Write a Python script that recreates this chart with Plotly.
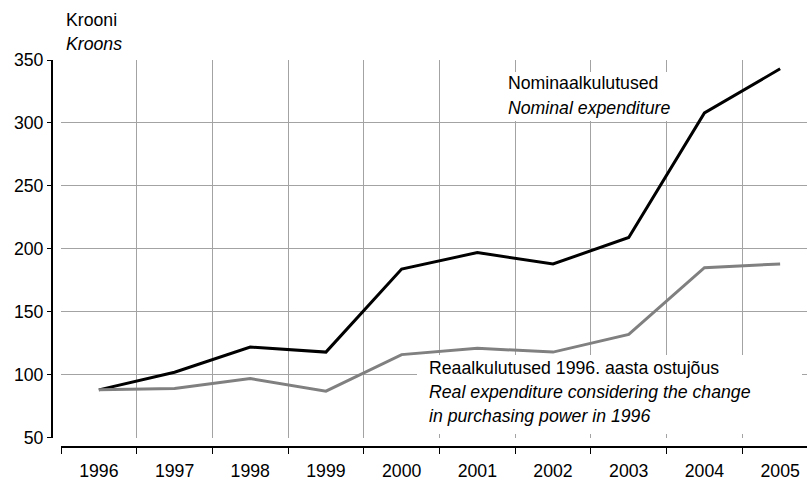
import plotly.graph_objects as go

years = ["1996", "1997", "1998", "1999", "2000", "2001", "2002", "2003", "2004", "2005"]
nominal = [88, 102, 122, 118, 184, 197, 188, 209, 308, 343]
real = [88, 89, 97, 87, 116, 121, 118, 132, 185, 188]
y_ticks = [50, 100, 150, 200, 250, 300, 350]

W, H = 807, 480
ML, MR, MT, MB = 52, 0, 60, 33
PW, PH = W - ML - MR, H - MT - MB

def px_x(p):
    return (p - ML) / PW

def px_y(p):
    return (H - MB - p) / PH

FONT = "Liberation Sans, Arial, sans-serif"
FS = 17.7
GRID = "#a3a3a3"

xi = list(range(len(years)))

fig = go.Figure()
fig.add_trace(go.Scatter(x=xi, y=nominal, mode="lines",
                         line=dict(color="#000000", width=3), showlegend=False))
fig.add_trace(go.Scatter(x=xi, y=real, mode="lines",
                         line=dict(color="#808080", width=3), showlegend=False))

fig.update_layout(
    width=W, height=H,
    margin=dict(l=ML, r=MR, t=MT, b=MB, pad=0, autoexpand=False),
    paper_bgcolor="white", plot_bgcolor="white",
    font=dict(family=FONT, size=FS, color="#000000"),
    xaxis=dict(
        domain=[px_x(61), 1], range=[-0.5, 9.355],
        anchor="free", position=0, automargin=False,
        tickmode="array", tickvals=xi, ticktext=years,
        ticks="", showgrid=False, zeroline=False,
        showline=True, linecolor="#000000", linewidth=2,
        ticklabelstandoff=8,
        minor=dict(tickmode="linear", tick0=-0.5, dtick=1, ticks="outside",
                   ticklen=6, tickwidth=1, tickcolor="#000000",
                   showgrid=True, gridcolor=GRID, gridwidth=1),
    ),
    yaxis=dict(
        domain=[px_y(437.7), 1], range=[50, 350],
        anchor="free", position=0, automargin=False,
        tickmode="array", tickvals=y_ticks,
        ticks="outside", ticklen=4, tickwidth=1, tickcolor="#000000",
        showgrid=True, gridcolor=GRID, gridwidth=1, zeroline=False,
        showline=True, linecolor="#000000", linewidth=2,
    ),
)

# white backing boxes behind the in-plot labels (covering gridlines)
for x0, x1, y0, y1 in [(497, 680, 72, 121), (417, 802, 355, 434)]:
    fig.add_shape(type="rect", xref="paper", yref="paper",
                  x0=px_x(x0), x1=px_x(x1), y0=px_y(y1), y1=px_y(y0),
                  fillcolor="white", line=dict(width=0), layer="above")

labels = [
    ("Krooni", 65, 20, False),
    ("Kroons", 65, 44, True),
    ("Nominaalkulutused", 507, 83, False),
    ("Nominal expenditure", 507, 108, True),
    ("Reaalkulutused 1996. aasta ostujõus", 428, 368, False),
    ("Real expenditure considering the change", 428, 392, True),
    ("in purchasing power in 1996", 428, 416, True),
]
for txt, lx, ly, it in labels:
    fig.add_annotation(text=f"<i>{txt}</i>" if it else txt,
                       xref="paper", yref="paper", x=px_x(lx), y=px_y(ly),
                       xanchor="left", yanchor="middle", showarrow=False,
                       font=dict(family=FONT, size=FS, color="#000000"),
                       borderpad=0)

fig.write_html("out.html", config={"displayModeBar": False},
               post_script="document.body.style.margin='0';document.body.style.overflow='hidden';")
